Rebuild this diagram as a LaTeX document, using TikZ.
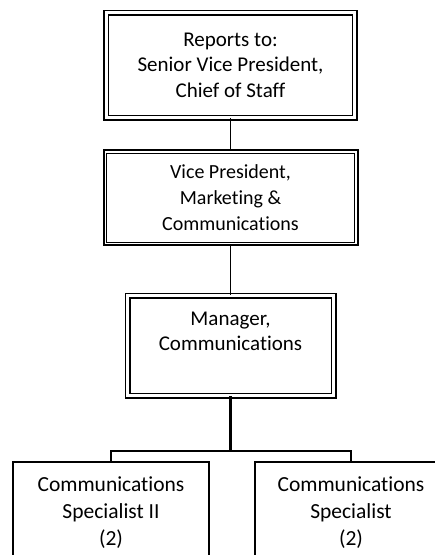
\documentclass[tikz,border=0pt]{standalone}
\usepackage{fontspec}
\setmainfont{Carlito}[Ligatures=NoCommon]
\usetikzlibrary{positioning}

\begin{document}
\begin{tikzpicture}[x=1pt, y=-1pt,
    dblbox/.style={draw=black, double=white, double distance=3pt, line width=1.5pt,
        inner sep=0pt, align=center},
    vpbox/.style={draw=black, line width=2pt, inner sep=0pt, align=center},
    specbox/.style={draw=black, line width=1.5pt, inner sep=0pt,
        minimum width=196pt, minimum height=160pt, anchor=north},
    boxtext/.style={inner sep=0pt, align=center, anchor=north},
    link/.style={line width=1.8pt}]

    \useasboundingbox (0,0) rectangle (435,555);
    \clip (0,0) rectangle (435,555);

    % Reports to
    \node[dblbox, minimum width=248.5pt, minimum height=105pt,
        font=\fontsize{21}{25.5}\selectfont] (top) at (230.5,65)
        {Reports to:\\Senior Vice President,\\Chief of Staff};

    % Vice President box, thick outer line with thin inner line
    \node[vpbox, minimum width=254pt, minimum height=95pt,
        font=\fontsize{20}{26}\selectfont] (vp) at (230.5,197.5)
        {Vice President,\\Marketing \&\\Communications};
    \draw[line width=0.8pt] ([shift={(4pt,-4pt)}]vp.north west)
        rectangle ([shift={(-4pt,4pt)}]vp.south east);

    % Manager box
    \node[dblbox, minimum width=206pt, minimum height=100pt] (mgr) at (230.5,345.6) {};
    \node[boxtext, font=\fontsize{21}{25}\selectfont] (mgrtxt)
        at ([yshift=-17pt]mgr.north) {Manager,\\Communications};

    % Specialists (boxes run off the page)
    \node[specbox] (spec2) at (111,461) {};
    \node[specbox, minimum width=192pt] (spec1) at (351,461) {};
    \node[boxtext, font=\fontsize{21.5}{27}\selectfont] (spec2txt)
        at ([yshift=-16pt]spec2.north) {Communications\\Specialist II\\(2)};
    \node[boxtext, font=\fontsize{21.5}{27}\selectfont] (spec1txt)
        at ([yshift=-16pt]spec1.north) {Communications\\Specialist\\(2)};

    % Lines
    \coordinate (split) at (230.5,451);
    \draw[link] (top.south) -- (vp.north);
    \draw[link] (vp.south) -- (mgr.north);
    \draw[line width=2.4pt] (mgr.south) -- (split);
    \draw[line width=2pt] (split) -| (spec2.north);
    \draw[line width=1.2pt] (split) -| (spec1.north);

\end{tikzpicture}
\end{document}
